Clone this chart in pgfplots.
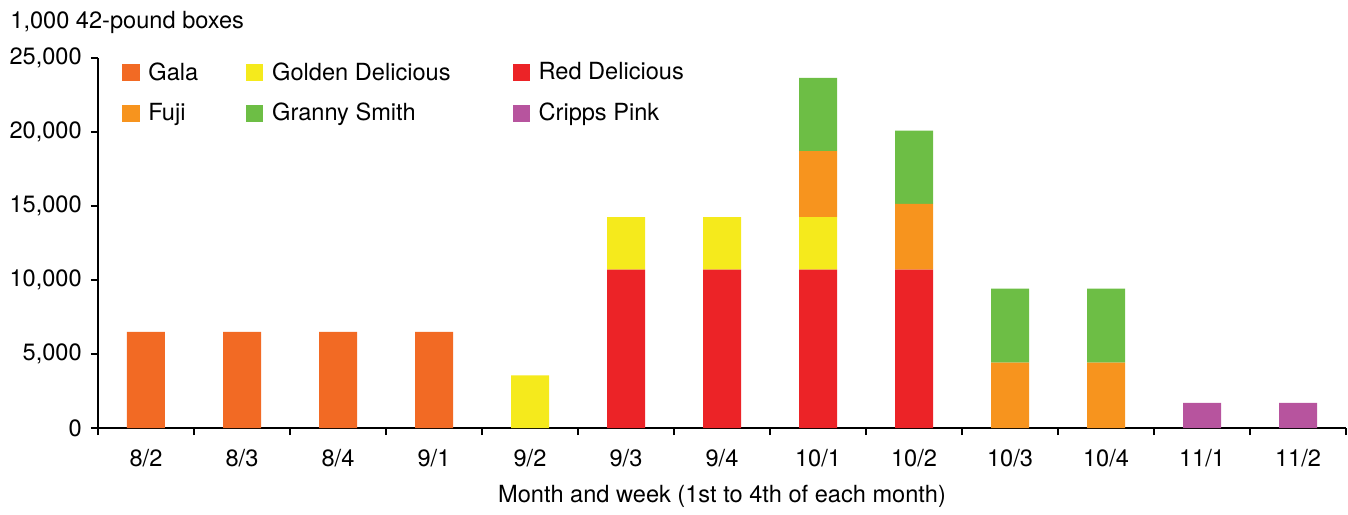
\documentclass[border=0pt]{standalone}
\usepackage{pgfplots}
\pgfplotsset{compat=1.18}
\usepackage{pgfplotstable}
\usepackage{fontspec}
\setmainfont{TeX Gyre Heros}
\definecolor{cGala}{RGB}{242,106,36}
\definecolor{cGolden}{RGB}{245,234,28}
\definecolor{cRed}{RGB}{236,35,39}
\definecolor{cFuji}{RGB}{247,148,30}
\definecolor{cGranny}{RGB}{109,190,69}
\definecolor{cPink}{RGB}{183,84,158}
\pgfplotstableread{
x Gala Red Golden Fuji Granny Pink
0 6500 0 0 0 0 0
1 6500 0 0 0 0 0
2 6500 0 0 0 0 0
3 6500 0 0 0 0 0
4 0 0 3550 0 0 0
5 0 10700 3550 0 0 0
6 0 10700 3550 0 0 0
7 0 10700 3550 4450 4950 0
8 0 10700 0 4450 4950 0
9 0 0 0 4420 5000 0
10 0 0 0 4420 5000 0
11 0 0 0 0 0 1700
12 0 0 0 0 0 1700
}\datatable
\begin{document}
\begin{tikzpicture}[font=\fontsize{11.8pt}{14pt}\selectfont]
\begin{axis}[
  scale only axis,
  width=624pt, height=185pt,
  ybar stacked, bar width=19pt,
  xmin=-0.5, xmax=12.5, ymin=0, ymax=25000,
  axis x line=bottom, axis y line=left,
  axis line style={-, line width=1pt},
  tick align=outside, major tick length=3.6pt,
  tick style={black, line width=1pt},
  xtick={-0.5,0.5,...,12.5},
  x tick label as interval=true,
  xticklabels={8/2,8/3,8/4,9/1,9/2,9/3,9/4,10/1,10/2,10/3,10/4,11/1,11/2},
  xticklabel style={yshift=-3.5pt},
  ytick={0,5000,...,25000},
  yticklabel style={xshift=-1pt},
  scaled y ticks=false,
  /pgf/number format/.cd, 1000 sep={,}, assume math mode=true,
  /pgfplots/.cd,
  xlabel={Month and week (1st to 4th of each month)},
  xlabel style={yshift=-2.5pt},
  clip=false,
  legend columns=3,
  legend cell align=left,
  legend image code/.code={\fill[#1, draw=none] (0pt,-4.3pt) rectangle (8.6pt,4.3pt); \path (11pt,0pt);},
  legend style={draw=none, fill=none, at={(axis description cs:0,1)}, anchor=north west, xshift=9pt, yshift=2pt,
    /tikz/every even column/.append style={column sep=22pt},
    row sep=6pt},
]
\addlegendimage{fill=cGala, draw=none}\addlegendentry{Gala}
\addlegendimage{fill=cGolden, draw=none}\addlegendentry{Golden Delicious\rule{7pt}{0pt}}
\addlegendimage{fill=cRed, draw=none}\addlegendentry{Red Delicious}
\addlegendimage{fill=cFuji, draw=none}\addlegendentry{Fuji}
\addlegendimage{fill=cGranny, draw=none}\addlegendentry{Granny Smith}
\addlegendimage{fill=cPink, draw=none}\addlegendentry{Cripps Pink}
\addplot[forget plot, fill=cGala, draw=none] table[x=x,y=Gala]{\datatable};
\addplot[forget plot, fill=cRed, draw=none] table[x=x,y=Red]{\datatable};
\addplot[forget plot, fill=cGolden, draw=none] table[x=x,y=Golden]{\datatable};
\addplot[forget plot, fill=cFuji, draw=none] table[x=x,y=Fuji]{\datatable};
\addplot[forget plot, fill=cGranny, draw=none] table[x=x,y=Granny]{\datatable};
\addplot[forget plot, fill=cPink, draw=none] table[x=x,y=Pink]{\datatable};
\node[anchor=base west, inner sep=0pt] at (rel axis cs:0,1) [xshift=-44pt, yshift=15pt] {1,000 42-pound boxes};
\path (rel axis cs:0,0) ++(-49pt,-41pt) rectangle ++(674pt,255pt);
\end{axis}
\end{tikzpicture}
\end{document}
